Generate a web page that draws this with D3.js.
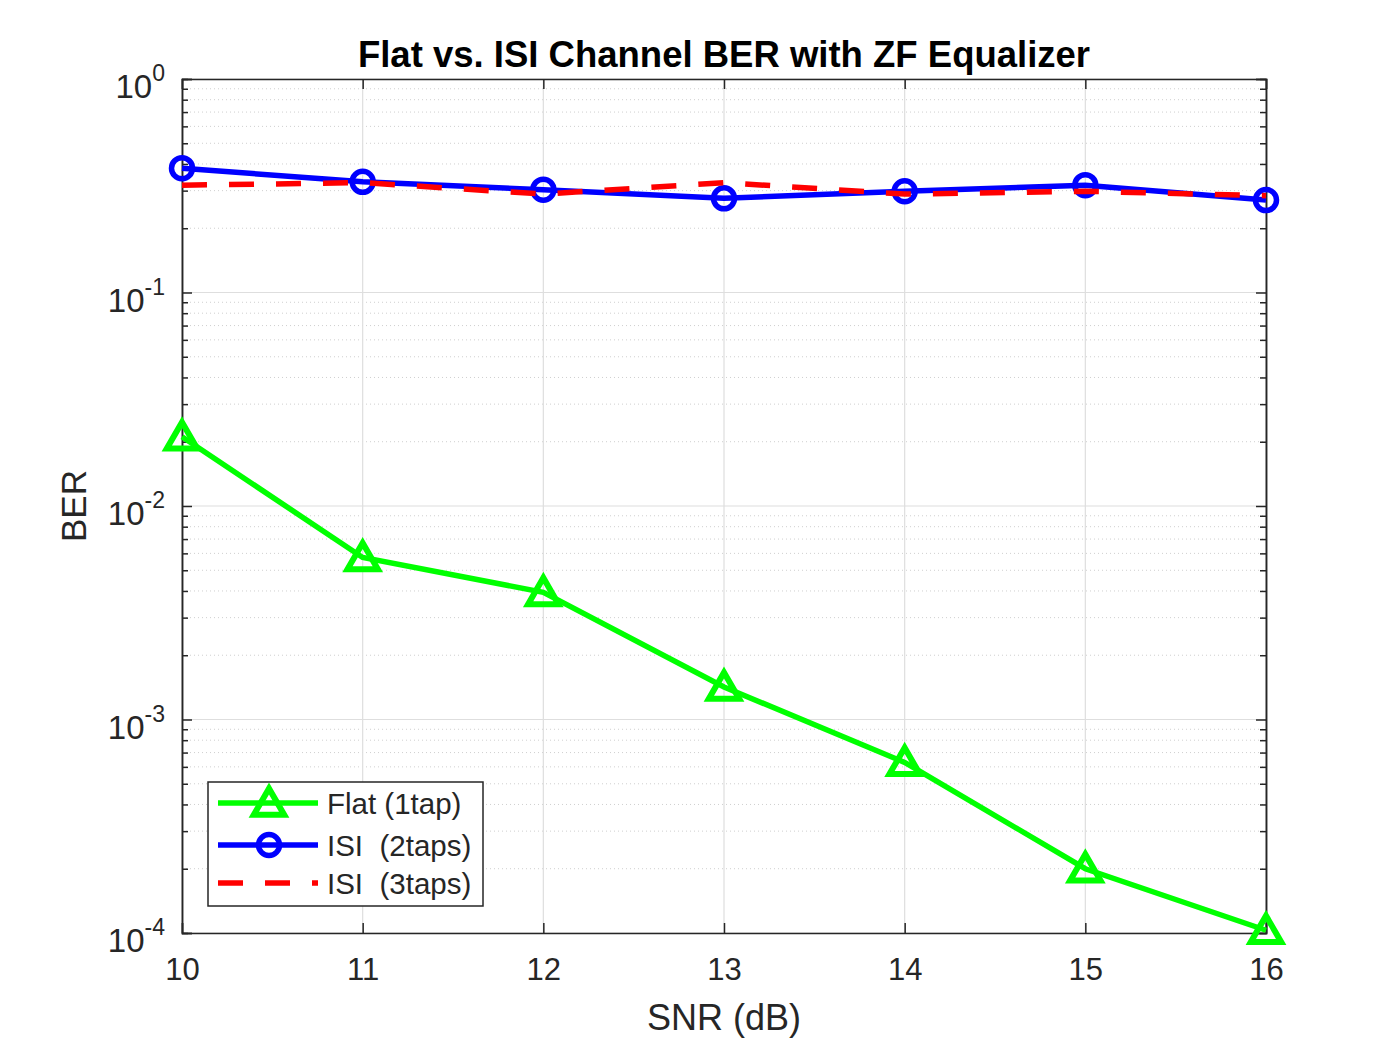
<!DOCTYPE html>
<html>
<head>
<meta charset="utf-8">
<script src="https://cdn.jsdelivr.net/npm/d3@7"></script>
<style>
  body { margin: 0; background: #fff; }
  text { font-family: "Liberation Sans", Arial, sans-serif; fill: #262626; }
</style>
</head>
<body>
<svg id="chart" width="1400" height="1050"></svg>
<script>
// values
const snr = [10, 11, 12, 13, 14, 15, 16];
const berFlat = [0.0211, 0.00574, 0.00394, 0.00142, 0.00063, 0.0002, 0.000103];
const berIsi2 = [0.382, 0.33, 0.303, 0.276, 0.298, 0.318, 0.271];
const berIsi3 = [0.318, 0.327, 0.289, 0.327, 0.289, 0.298, 0.284];
const xTicks = [10, 11, 12, 13, 14, 15, 16];
const yExponents = [0, -1, -2, -3, -4];
const legendLabels = ["Flat (1tap)", "ISI  (2taps)", "ISI  (3taps)"];

const svg = d3.select("#chart");
const margin = { top: 79, right: 134, bottom: 117, left: 182 };
const width = 1400 - margin.left - margin.right;
const height = 1050 - margin.top - margin.bottom;
const axisColor = "#262626";

const x = d3.scaleLinear().domain([10, 16]).range([0, width]);
const y = d3.scaleLog().domain([1e-4, 1]).range([height, 0]);

const g = svg.append("g")
  .attr("transform", `translate(${margin.left},${margin.top})`);

// minor values 2..9 per decade
const minor = [];
for (let e = -4; e < 0; e++) {
  for (let m = 2; m <= 9; m++) minor.push(m * Math.pow(10, e));
}

// grid
g.selectAll(".ygrid-minor")
  .data(minor)
  .enter().append("line")
  .attr("x1", 0).attr("x2", width)
  .attr("y1", d => y(d)).attr("y2", d => y(d))
  .attr("stroke", "#cfcfcf")
  .attr("stroke-width", 1)
  .attr("stroke-dasharray", "1,3");

g.selectAll(".ygrid")
  .data(yExponents.map(e => Math.pow(10, e)))
  .enter().append("line")
  .attr("x1", 0).attr("x2", width)
  .attr("y1", d => y(d)).attr("y2", d => y(d))
  .attr("stroke", "#dedede")
  .attr("stroke-width", 1.2);

g.selectAll(".xgrid")
  .data(xTicks)
  .enter().append("line")
  .attr("x1", d => x(d)).attr("x2", d => x(d))
  .attr("y1", 0).attr("y2", height)
  .attr("stroke", "#dedede")
  .attr("stroke-width", 1.2);

// axes (ticks inward)
const xAxisBottom = g.append("g")
  .attr("transform", `translate(0,${height})`)
  .call(d3.axisBottom(x).tickValues(xTicks).tickSize(-10).tickPadding(25).tickFormat(d3.format("d")));
const xAxisTop = g.append("g")
  .call(d3.axisTop(x).tickValues(xTicks).tickSize(-10).tickFormat(""));
const yAxisLeft = g.append("g")
  .call(d3.axisLeft(y).tickValues(yExponents.map(e => Math.pow(10, e))).tickSize(-10).tickFormat(""));
const yAxisRight = g.append("g")
  .attr("transform", `translate(${width},0)`)
  .call(d3.axisRight(y).tickValues(yExponents.map(e => Math.pow(10, e))).tickSize(-10).tickFormat(""));
const yMinorLeft = g.append("g")
  .call(d3.axisLeft(y).tickValues(minor).tickSize(-6).tickFormat(""));
const yMinorRight = g.append("g")
  .attr("transform", `translate(${width},0)`)
  .call(d3.axisRight(y).tickValues(minor).tickSize(-6).tickFormat(""));

[xAxisBottom, xAxisTop, yAxisLeft, yAxisRight, yMinorLeft, yMinorRight].forEach(a => {
  a.select(".domain").attr("stroke", axisColor).attr("stroke-width", 1.5);
  a.selectAll(".tick line").attr("stroke", axisColor).attr("stroke-width", 1.5);
});
xAxisBottom.selectAll(".tick text")
  .attr("font-size", 31)
  .attr("fill", axisColor)
  .style("font-family", "'Liberation Sans', Arial, sans-serif");

// y tick labels 10^e
const yLabels = g.selectAll(".ylab")
  .data(yExponents)
  .enter().append("text")
  .attr("x", -17)
  .attr("y", d => y(Math.pow(10, d)) + 19)
  .attr("text-anchor", "end")
  .attr("font-size", 33);
yLabels.append("tspan").text("10");
yLabels.append("tspan")
  .attr("dy", -17)
  .attr("font-size", 23)
  .text(d => d);

// lines
const line = d3.line()
  .x(d => x(d[0]))
  .y(d => y(d[1]));

const flatPts = snr.map((s, i) => [s, berFlat[i]]);
const isi2Pts = snr.map((s, i) => [s, berIsi2[i]]);
const isi3Pts = snr.map((s, i) => [s, berIsi3[i]]);

const tri = d3.symbol().type(d3.symbolTriangle).size(400);

g.append("path")
  .datum(flatPts)
  .attr("fill", "none")
  .attr("stroke", "#00ff00")
  .attr("stroke-width", 5.5)
  .attr("d", line);
g.selectAll(".tri")
  .data(flatPts)
  .enter().append("path")
  .attr("transform", d => `translate(${x(d[0])},${y(d[1]) + 3})`)
  .attr("d", tri)
  .attr("fill", "none")
  .attr("stroke", "#00ff00")
  .attr("stroke-width", 6);

g.append("path")
  .datum(isi2Pts)
  .attr("fill", "none")
  .attr("stroke", "#0000ff")
  .attr("stroke-width", 5.5)
  .attr("d", line);
g.selectAll(".circ")
  .data(isi2Pts)
  .enter().append("circle")
  .attr("cx", d => x(d[0]))
  .attr("cy", d => y(d[1]))
  .attr("r", 10.5)
  .attr("fill", "none")
  .attr("stroke", "#0000ff")
  .attr("stroke-width", 5.5);

g.append("path")
  .datum(isi3Pts)
  .attr("fill", "none")
  .attr("stroke", "#ff0000")
  .attr("stroke-width", 5.5)
  .attr("stroke-dasharray", "25,22")
  .attr("d", line);

// legend
const legend = svg.append("g").attr("transform", "translate(208,782)");
legend.append("rect")
  .attr("width", 275).attr("height", 124)
  .attr("fill", "#fff")
  .attr("stroke", axisColor)
  .attr("stroke-width", 1.5);

const rowY = [21, 63, 101];
legendLabels.forEach((lab, i) => {
  const row = legend.append("g").attr("transform", `translate(0,${rowY[i]})`);
  const ln = row.append("line")
    .attr("x1", 10).attr("x2", 110)
    .attr("stroke-width", 5.5);
  if (i === 0) {
    ln.attr("stroke", "#00ff00");
    row.append("path")
      .attr("transform", "translate(61,3)")
      .attr("d", tri)
      .attr("fill", "none")
      .attr("stroke", "#00ff00")
      .attr("stroke-width", 6);
  } else if (i === 1) {
    ln.attr("stroke", "#0000ff");
    row.append("circle")
      .attr("cx", 61).attr("r", 10.5)
      .attr("fill", "none")
      .attr("stroke", "#0000ff")
      .attr("stroke-width", 5.5);
  } else {
    ln.attr("stroke", "#ff0000").attr("stroke-dasharray", "25,22");
  }
  row.append("text")
    .attr("x", 119)
    .attr("y", 11)
    .attr("font-size", 29.5)
    .style("white-space", "pre")
    .attr("fill", "#000")
    .text(lab);
});

// title and axis labels
svg.append("text")
  .attr("x", margin.left + width / 2)
  .attr("y", 67)
  .attr("text-anchor", "middle")
  .attr("font-size", 36.5)
  .attr("font-weight", "bold")
  .style("fill", "#000")
  .text("Flat vs. ISI Channel BER with ZF Equalizer");

svg.append("text")
  .attr("x", margin.left + width / 2)
  .attr("y", 1030)
  .attr("text-anchor", "middle")
  .attr("font-size", 36)
  .text("SNR (dB)");

svg.append("text")
  .attr("transform", `translate(86,${margin.top + height / 2}) rotate(-90)`)
  .attr("text-anchor", "middle")
  .attr("font-size", 35)
  .text("BER");
</script>
</body>
</html>
